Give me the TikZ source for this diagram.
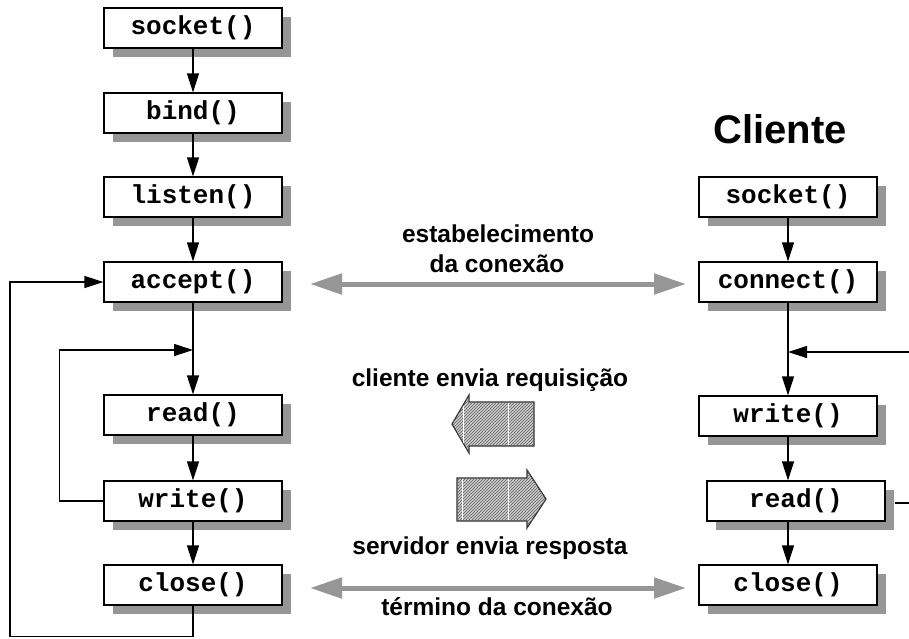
\documentclass[tikz,border=0pt]{standalone}
\usepackage{fontspec}
\setmainfont{Liberation Sans}
\newfontfamily\boxfont{Liberation Mono}
\usetikzlibrary{arrows.meta,shadows,patterns}

\definecolor{shadowgray}{RGB}{150,150,150}
\definecolor{bigarrow}{RGB}{150,150,150}
\definecolor{hatchbg}{RGB}{205,205,205}
\definecolor{hatchfg}{RGB}{95,95,95}

\tikzset{
  call/.style={draw=black, line width=1.2pt, fill=white,
    minimum width=178pt, minimum height=40pt, inner sep=0pt,
    font=\boxfont\bfseries\fontsize{26}{26}\selectfont,
    drop shadow={shadow xshift=9pt, shadow yshift=-9pt, fill=shadowgray, opacity=1}},
  flow/.style={line width=1.2pt, -{Triangle[length=19pt,width=12pt]}},
  link/.style={line width=1.2pt},
  exchange/.style={line width=5pt, draw=bigarrow,
    {Triangle[length=32pt,width=20pt]}-{Triangle[length=32pt,width=20pt]}},
  caption/.style={font=\bfseries\fontsize{24.5}{24.5}\selectfont, anchor=base, inner sep=0pt},
  blockarrow/.style={draw=black!80, line width=1.2pt, fill=hatchbg,
    postaction={pattern=north east lines, pattern color=hatchfg}},
}

\begin{document}
\begin{tikzpicture}[x=1pt, y=-1pt]
\useasboundingbox (0,0) rectangle (909,638);

% server side
\node[call] (ssock)   at (193,28)  {socket()};
\node[call] (sbind)   at (193,113) {bind()};
\node[call] (slisten) at (193,197) {listen()};
\node[call] (saccept) at (193,282) {accept()};
\node[call] (sread)   at (193,415) {read()};
\node[call] (swrite)  at (193,501) {write()};
\node[call] (sclose)  at (193,585) {close()};

% client side
\node[font=\bfseries\fontsize{40}{40}\selectfont, inner sep=0pt] (title) at (780,129) {Cliente};
\node[call] (csock)    at (788,197) {socket()};
\node[call] (cconnect) at (788,282) {connect()};
\node[call] (cwrite)   at (788,416) {write()};
\node[call] (cread)    at (796,501) {read()};
\node[call] (cclose)   at (788,585) {close()};

% loop junctions and free ends
\coordinate (sjoin) at (193,350);
\coordinate (cjoin) at (788,352);
\coordinate (cin)   at (909,352);
\coordinate (cout)  at (909,503);

% server flow
\draw[flow] (ssock) -- (sbind);
\draw[flow] (sbind) -- (slisten);
\draw[flow] (slisten) -- (saccept);
\draw[flow] (saccept) -- (sread);
\draw[flow] (swrite.west) -- ++(-44,0) |- (sjoin);
\draw[flow] (sread) -- (swrite);
\draw[flow] (swrite) -- (sclose);
\draw[flow] (sclose.south) -- (193,636.6) -- (10,636.6) |- (saccept.west);

% client flow
\draw[flow] (csock) -- (cconnect);
\draw[flow] (cconnect) -- (cwrite);
\draw[flow] (cin) -- (cjoin);
\draw[flow] (cwrite.south) -- (cwrite.south |- cread.north);
\draw[flow] (cread.south -| cclose) -- (cclose);
\draw[link] ([xshift=9pt]cread.east |- cout) -- (cout);

% connection setup and teardown
\coordinate (openL)  at (310,284);
\coordinate (openR)  at (686,284);
\coordinate (closeL) at (310,588);
\coordinate (closeR) at (686,588);
\draw[exchange] (openL) -- (openR);
\draw[exchange] (closeL) -- (closeR);

\node[caption] (lbl1) at (498,242) {estabelecimento};
\node[caption] (lbl2) at (497,272) {da conexão};
\node[caption] (lbl3) at (490,386) {cliente envia requisição};
\node[caption] (lbl4) at (490,554) {servidor envia resposta};
\node[caption] (lbl5) at (497,615) {término da conexão};

% request and reply block arrows
\draw[blockarrow] (452,424) -- (469,395) -- (469,402) -- (534,402) -- (534,446)
  -- (469,446) -- (469,453) -- cycle;
\draw[white, line width=0.8pt] (463,406) -- (463,443) (508,403) -- (508,445);
\draw[blockarrow] (457,478) -- (527,478) -- (527,470) -- (546,499) -- (527,528)
  -- (527,521) -- (457,521) -- cycle;
\draw[white, line width=0.8pt] (462,479) -- (462,520) (508,479) -- (508,520);
\end{tikzpicture}
\end{document}
